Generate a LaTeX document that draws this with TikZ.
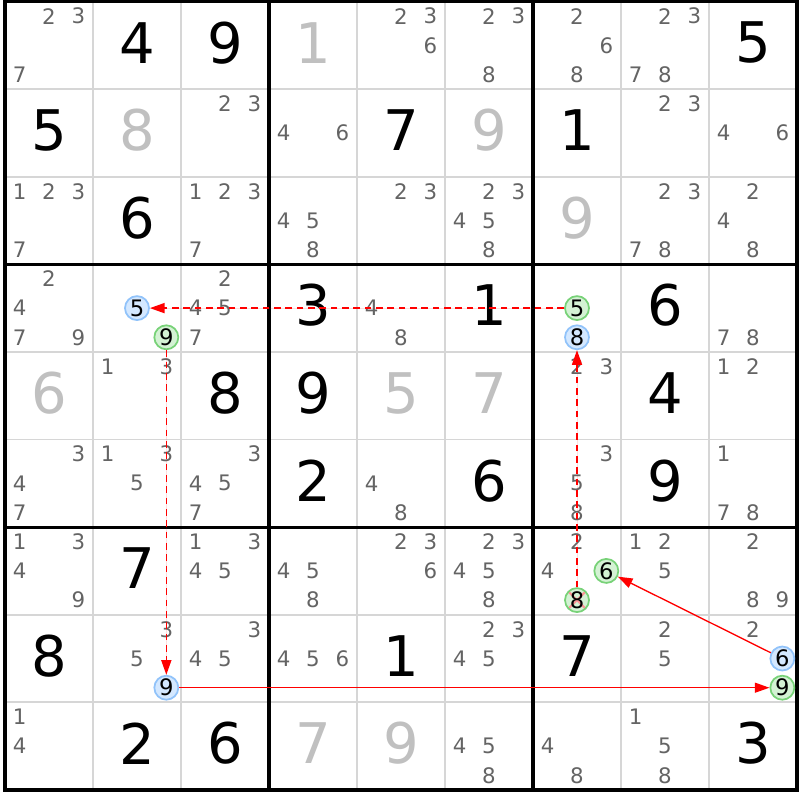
\documentclass[tikz,border=0pt]{standalone}
\usepackage{fontspec}
\setmainfont{DejaVu Sans}
\usetikzlibrary{arrows.meta}

\definecolor{candgray}{RGB}{100,100,100}
\definecolor{solvedgray}{RGB}{192,192,192}
\definecolor{gridgray}{RGB}{214,214,214}
\definecolor{bluefill}{RGB}{212,232,255}
\definecolor{blueline}{RGB}{145,195,250}
\definecolor{greenfill}{RGB}{212,242,212}
\definecolor{greenline}{RGB}{120,210,120}
\definecolor{crossred}{RGB}{250,150,150}

\begin{document}
\begin{tikzpicture}[x=66pt,y=-65.7pt,>={Triangle[length=11pt,width=7.5pt]},
        given/.style={font=\fontsize{42}{42}\selectfont,yshift=2pt},
        solved/.style={given,text=solvedgray},
        cand/.style={font=\fontsize{16}{16}\selectfont,text=candgray},
        ring/.style={circle,inner sep=0pt,minimum size=18pt,line width=1.3pt,
                     font=\fontsize{17}{17}\selectfont},
        bluering/.style={ring,draw=blueline,fill=bluefill},
        greenring/.style={ring,draw=greenline,fill=greenfill},
        weak/.style={->,draw=red,fill=red,line width=1.1pt,dash pattern=on 5pt off 3.5pt},
        strong/.style={->,draw=red,fill=red,line width=1pt}]

  \useasboundingbox[fill=white] (-0.0568,-0.0171) rectangle (9.0341,9.1153);

  % grid
  \foreach \i in {1,...,8} {
    \draw[gridgray,line width=1.3pt] (\i,0) -- (\i,9);
    \draw[gridgray,line width=1.3pt] (0,\i) -- (9,\i);
  }
  \foreach \i in {0,3,6,9} {
    \draw[line width=2.4pt,line cap=rect] (\i,0) -- (\i,9);
    \draw[line width=2.4pt,line cap=rect] (0,\i) -- (9,\i);
  }

  % givens and solved cells
  \foreach \r/\c/\d in {1/2/4,1/3/9,1/9/5,2/1/5,2/5/7,2/7/1,3/2/6,4/4/3,4/6/1,4/8/6,
                        5/3/8,5/4/9,5/8/4,6/4/2,6/6/6,6/8/9,7/2/7,8/1/8,8/5/1,8/7/7,
                        9/2/2,9/3/6,9/9/3}
    \node[given] at (\c-0.5,\r-0.5) {\d};
  \foreach \r/\c/\d in {1/4/1,2/2/8,2/6/9,3/7/9,5/1/6,5/5/5,5/6/7,9/4/7,9/5/9}
    \node[solved] at (\c-0.5,\r-0.5) {\d};

  % candidates
  \foreach \r/\c/\l in {1/1/{2,3,7},1/5/{2,3,6},1/6/{2,3,8},1/7/{2,6,8},1/8/{2,3,7,8},
                        2/3/{2,3},2/4/{4,6},2/8/{2,3},2/9/{4,6},
                        3/1/{1,2,3,7},3/3/{1,2,3,7},3/4/{4,5,8},3/5/{2,3},3/6/{2,3,4,5,8},
                        3/8/{2,3,7,8},3/9/{2,4,8},
                        4/1/{2,4,7,9},4/3/{2,4,5,7},4/5/{4,8},4/9/{7,8},
                        5/2/{1,3},5/7/{2,3},5/9/{1,2},
                        6/1/{3,4,7},6/2/{1,3,5},6/3/{3,4,5,7},6/5/{4,8},6/7/{3,5,8},6/9/{1,7,8},
                        7/1/{1,3,4,9},7/3/{1,3,4,5},7/4/{4,5,8},7/5/{2,3,6},7/6/{2,3,4,5,8},
                        7/7/{2,4},7/8/{1,2,5},7/9/{2,8,9},
                        8/2/{3,5},8/3/{3,4,5},8/4/{4,5,6},8/6/{2,3,4,5},8/8/{2,5},8/9/{2},
                        9/1/{1,4},9/6/{4,5,8},9/7/{4,8},9/8/{1,5,8}}
    \foreach \d in \l
      \node[cand] at ({\c-0.5+(mod(\d-1,3)-1)/3},{\r-0.5+(floor((\d-1)/3)-1)/3}) {\d};

  % chain
  \node[bluering]  (r4c2n5) at (1.5,3.5) {5};
  \node[greenring] (r4c2n9) at (1.8333,3.8333) {9};
  \node[greenring] (r4c7n5) at (6.5,3.5) {5};
  \node[bluering]  (r4c7n8) at (6.5,3.8333) {8};
  \node[greenring] (r7c7n6) at (6.8333,6.5) {6};
  \node[greenring,path picture={
      \draw[crossred,line width=1.5pt] (path picture bounding box.north west) -- (path picture bounding box.south east)
        (path picture bounding box.north east) -- (path picture bounding box.south west);}]
                   (r7c7n8) at (6.5,6.8333) {8};
  \node[bluering]  (r8c2n9) at (1.8333,7.8333) {9};
  \node[bluering]  (r8c9n6) at (8.8333,7.5) {6};
  \node[greenring] (r8c9n9) at (8.8333,7.8333) {9};

  \draw[weak]   (r4c7n5) -- (r4c2n5);
  \draw[weak]   (r4c2n9) -- (r8c2n9);
  \draw[strong] (r8c2n9) -- (r8c9n9);
  \draw[strong] (r8c9n6) -- (r7c7n6);
  \draw[weak]   (r7c7n8) -- (r4c7n8);

\end{tikzpicture}
\end{document}
